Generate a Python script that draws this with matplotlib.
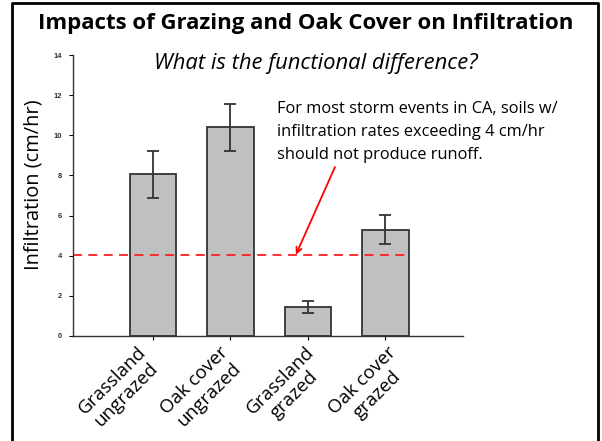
import matplotlib.pyplot as plt
from matplotlib.lines import Line2D
from matplotlib.transforms import blended_transform_factory, ScaledTranslation

# data
categories = ['Grassland\nungrazed', 'Oak cover\nungrazed', 'Grassland\ngrazed', 'Oak cover\ngrazed']
infiltration = [8.05, 10.4, 1.45, 5.3]
errors = [1.18, 1.18, 0.28, 0.72]
threshold = 4.05
y_ticks = [0, 2, 4, 6, 8, 10, 12, 14]

fig = plt.figure(figsize=(6.02, 4.41), dpi=100)

# slide frame (left, top, right)
fig.add_artist(Line2D([12/602, 12/602, 598/602, 598/602], [0, 1 - 3/441, 1 - 3/441, 0],
                      transform=fig.transFigure, color='black', lw=2))

ax = fig.add_axes([73/602, 1 - 336/441, (463 - 73)/602, (336 - 55)/441])
x = list(range(len(categories)))
ax.bar(x, infiltration, width=0.6, color='#c0c0c0', edgecolor='#333333', linewidth=1.3,
       yerr=errors, error_kw=dict(ecolor='#333333', elinewidth=1.3, capsize=4, capthick=1.3))

# threshold line up to the last bar
ax.plot([-1.03, x[-1] + 0.3], [threshold, threshold], color='#ff2020', ls=(0, (5, 3.5)), lw=1.3)

ax.set_xlim(-1.03, 4.0)
ax.set_ylim(0, 14)
ax.set_yticks(y_ticks)
ax.set_yticklabels([str(v) for v in y_ticks], fontsize=5.5, fontweight='bold',
                   family='Liberation Sans', color='#333333')
ax.set_xticks(x)
ax.set_xticklabels([])
ax.tick_params(axis='y', length=3, width=0.8, pad=5)
ax.tick_params(axis='x', length=3, width=0.8)
for s in ['top', 'right']:
    ax.spines[s].set_visible(False)
for s in ['left', 'bottom']:
    ax.spines[s].set_linewidth(1.0)
    ax.spines[s].set_color('#333333')

# slanted category labels, placed a bit by hand like the slide's text boxes
shift_px = [-16, -11, -3, 2]
base = blended_transform_factory(ax.transData, ax.transAxes)
for xi, lab, dx in zip(x, categories, shift_px):
    tr = base + ScaledTranslation(dx / 100, -7 / 100, fig.dpi_scale_trans)
    ax.text(xi, 0, lab, transform=tr, rotation=45, rotation_mode='anchor',
            ha='right', va='top', multialignment='center', fontsize=13.5,
            family='Open Sans', linespacing=1.15)

ax.set_ylabel('Infiltration (cm/hr)', fontsize=14.4, family='Open Sans')
ax.yaxis.set_label_coords(-0.075, 0.54)

fig.text(0.507, 1 - 23/441, 'Impacts of Grazing and Oak Cover on Infiltration',
         ha='center', va='center', fontsize=16, fontweight='bold', family='Open Sans')
fig.text(0.525, 1 - 63/441, 'What is the functional difference?', ha='center', va='center',
         fontsize=15.8, style='italic', family='Open Sans')

note = ('For most storm events in CA, soils w/\n'
        'infiltration rates exceeding 4 cm/hr\n'
        'should not produce runoff.')
fig.text(277/602, 1 - 101/441, note, ha='left', va='top', fontsize=11.8,
         family='Open Sans', linespacing=1.6)
ax.annotate('', xy=(1.845, threshold), xytext=(335/602, 1 - 167/441),
            textcoords='figure fraction',
            arrowprops=dict(arrowstyle='->', color='red', lw=1.3, shrinkA=0, shrinkB=0))

fig.savefig('out.png', dpi=100)
